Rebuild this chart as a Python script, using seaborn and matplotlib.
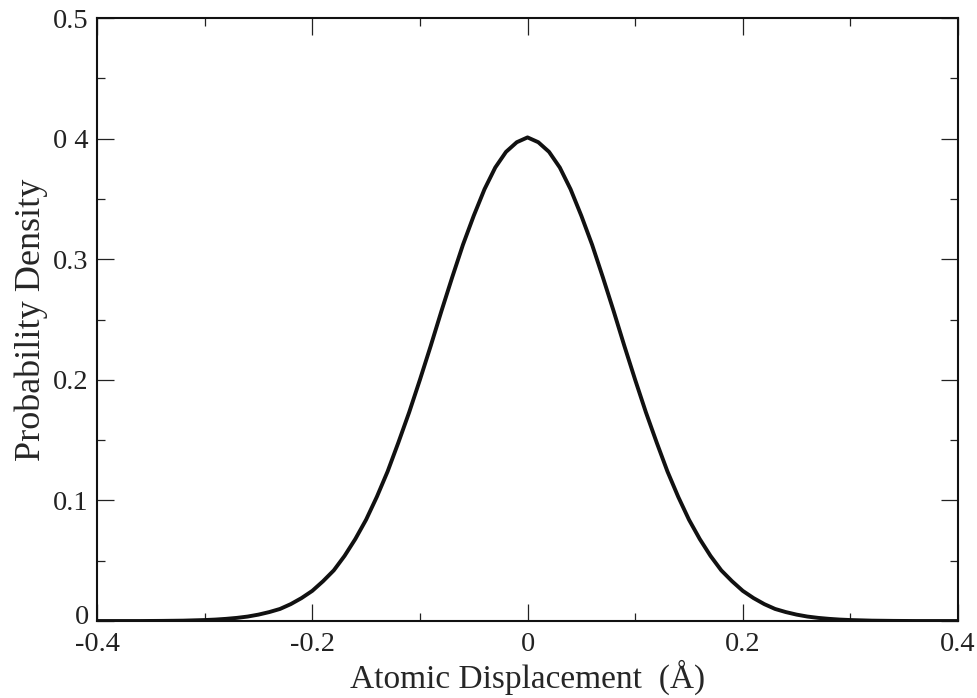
import matplotlib
matplotlib.use("Agg")
import matplotlib.pyplot as plt
import matplotlib.transforms as mtransforms
import seaborn as sns
import pandas as pd
from matplotlib.ticker import MultipleLocator, FixedLocator

# Values
displacement = [-0.40, -0.38, -0.36, -0.34, -0.32, -0.30, -0.29, -0.28, -0.27, -0.26,
                -0.25, -0.24, -0.23, -0.22, -0.21, -0.20, -0.19, -0.18, -0.17, -0.16,
                -0.15, -0.14, -0.13, -0.12, -0.11, -0.10, -0.09, -0.08, -0.07, -0.06,
                -0.05, -0.04, -0.03, -0.02, -0.01, 0.00, 0.01, 0.02, 0.03, 0.04,
                0.05, 0.06, 0.07, 0.08, 0.09, 0.10, 0.11, 0.12, 0.13, 0.14,
                0.15, 0.16, 0.17, 0.18, 0.19, 0.20, 0.21, 0.22, 0.23, 0.24,
                0.25, 0.26, 0.27, 0.28, 0.29, 0.30, 0.32, 0.34, 0.36, 0.38, 0.40]
density = [0.0000, 0.0000, 0.0000, 0.0001, 0.0003, 0.0008, 0.0012, 0.0018, 0.0026, 0.0037,
           0.0053, 0.0074, 0.010, 0.014, 0.019, 0.025, 0.033, 0.042, 0.054, 0.068,
           0.084, 0.103, 0.124, 0.148, 0.173, 0.200, 0.228, 0.257, 0.285, 0.312,
           0.336, 0.358, 0.376, 0.389, 0.397, 0.401, 0.397, 0.389, 0.376, 0.358,
           0.336, 0.312, 0.285, 0.257, 0.228, 0.200, 0.173, 0.148, 0.124, 0.103,
           0.084, 0.068, 0.054, 0.042, 0.033, 0.025, 0.019, 0.014, 0.010, 0.0074,
           0.0053, 0.0037, 0.0026, 0.0018, 0.0012, 0.0008, 0.0003, 0.0001, 0.0000, 0.0000, 0.0000]

x_ticks = [-0.4, -0.2, 0.0, 0.2, 0.4]
x_tick_labels = ["-0.4", "-0.2", "0", "0.2", "0.4"]
y_ticks = [0.0, 0.1, 0.2, 0.3, 0.4, 0.5]
y_tick_labels = ["0", "0.1", "0.2", "0.3", "0 4", "0.5"]

df = pd.DataFrame({"x": displacement, "y": density})

sns.set_style("ticks")
plt.rcParams["font.family"] = ["Liberation Serif", "DejaVu Serif"]

fig = plt.figure(figsize=(9.78, 6.98), dpi=100)
ax = fig.add_axes([0.0992, 0.1103, 0.8804, 0.8639])

sns.lineplot(data=df, x="x", y="y", ax=ax, color="#111111", linewidth=2.8)

ax.set_xlim(-0.4, 0.4)
ax.set_ylim(0, 0.5)
ax.xaxis.set_major_locator(FixedLocator(x_ticks))
ax.set_xticklabels(x_tick_labels)
ax.yaxis.set_major_locator(FixedLocator(y_ticks))
ax.set_yticklabels(y_tick_labels)
ax.xaxis.set_minor_locator(MultipleLocator(0.1))
ax.yaxis.set_minor_locator(MultipleLocator(0.05))

ax.tick_params(which="both", direction="in", top=True, right=True, colors="#222222",
               labelsize=20.5, width=0.9)
ax.tick_params(which="major", length=12, pad=6)
ax.tick_params(which="minor", length=6)
ax.tick_params(axis="x", which="major", pad=8)

# nudge the y "0" label up a little so it does not collide with "-0.4"
zero_lbl = ax.yaxis.get_major_ticks()[0].label1
zero_lbl.set_transform(zero_lbl.get_transform() +
                       mtransforms.ScaledTranslation(0, 5 / 72, fig.dpi_scale_trans))

for s in ax.spines.values():
    s.set_linewidth(1.5)
    s.set_color("#111111")

ax.set_xlabel("Atomic Displacement  (Å)", fontsize=24, labelpad=2)
ax.set_ylabel("Probability Density", fontsize=26, labelpad=4)

fig.savefig("out.png", dpi=100)
